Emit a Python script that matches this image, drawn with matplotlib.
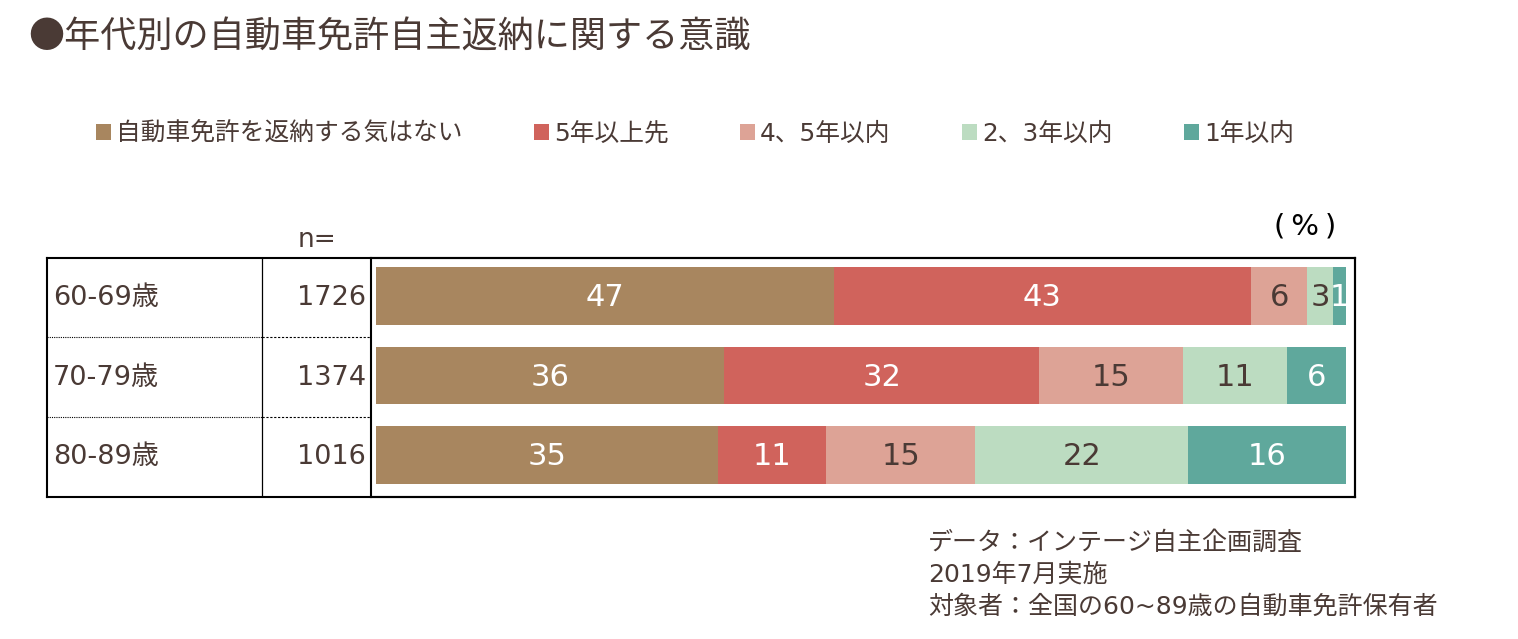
import matplotlib.pyplot as plt
from matplotlib.patches import Patch

plt.rcParams['font.family'] = ['DejaVu Sans', 'Noto Sans CJK JP']

ages = ["60-69歳", "70-79歳", "80-89歳"]
n_counts = ["1726", "1374", "1016"]
categories = ["自動車免許を返納する気はない", "5年以上先", "4、5年以内", "2、3年以内", "1年以内"]
values = [
    [47.2, 43.0, 5.8, 2.7, 1.3],
    [35.9, 32.5, 14.8, 10.7, 6.1],
    [35.3, 11.1, 15.4, 21.9, 16.3],
]
labels = [
    ["47", "43", "6", "3", "1"],
    ["36", "32", "15", "11", "6"],
    ["35", "11", "15", "22", "16"],
]
colors = ["#A8865F", "#D0635C", "#DDA396", "#BCDCC1", "#5FA89C"]
label_colors = ["white", "white", "#4A3A35", "#4A3A35", "white"]
text_color = "#4A3A35"

W, H = 1518, 639
fig = plt.figure(figsize=(W / 100, H / 100), dpi=100)


def fx(px):
    return px / W


def fy(py):
    return 1 - py / H


# title
fig.text(fx(28), fy(38), "●年代別の自動車免許自主返納に関する意識", fontsize=26,
         family=['Noto Sans CJK JP', 'DejaVu Sans'], color=text_color, va="center", ha="left")

# legend
handles = [Patch(facecolor=c, edgecolor="none") for c in colors]
fig.legend(handles, categories, loc="center left", bbox_to_anchor=(fx(74), fy(134)),
           ncol=5, frameon=False, fontsize=17.8, handlelength=0.6, handleheight=0.6,
           handletextpad=0.2, columnspacing=2.9, labelcolor=text_color)

# table part (left)
top, bottom = 258, 497
tab = fig.add_axes([fx(47), fy(bottom), fx(371) - fx(47), fy(top) - fy(bottom)])
tab.set_xlim(47, 371)
tab.set_ylim(bottom, top)
tab.axis("off")
tab.axvline(262, color="black", lw=0.9)
for yl in [337, 417]:
    tab.plot([47, 262], [yl, yl], color="black", lw=0.8, ls=(0, (1, 1)))
    tab.plot([262, 371], [yl, yl], color="black", lw=0.8, ls=(0, (2, 1.5)))
row_px = [298, 378, 457]
for i, age in enumerate(ages):
    tab.text(53, row_px[i], age, fontsize=19.5, color=text_color, va="center", ha="left")
    tab.text(366, row_px[i], n_counts[i], fontsize=19.5, color=text_color, va="center", ha="right")

fig.text(fx(298), fy(240), "n=", fontsize=19, color=text_color, va="center", ha="left")
fig.text(fx(1274), fy(226), "(\u2009%\u2009)", fontsize=21, color="black", va="center", ha="left")

# bars part (right)
ax = fig.add_axes([fx(371), fy(bottom), fx(1355) - fx(371), fy(top) - fy(bottom)])
scale = 9.7
ax.set_xlim(-5 / scale, 100 + 9 / scale)
row_gap = 79.5
ax.set_ylim(2 + (bottom - 455) / row_gap, -(296 - top) / row_gap)
for i in range(len(ages)):
    left = 0
    for j, v in enumerate(values[i]):
        ax.barh(i, v, left=left, height=0.72, color=colors[j], edgecolor="none")
        ax.text(left + v / 2, i + 0.02, labels[i][j], fontsize=22, color=label_colors[j],
                ha="center", va="center")
        left += v
ax.set_xticks([])
ax.set_yticks([])
for s in ax.spines.values():
    s.set_linewidth(1.5)

# outer frame
frame = fig.add_axes([fx(47), fy(bottom), fx(1355) - fx(47), fy(top) - fy(bottom)])
frame.patch.set_alpha(0)
frame.set_xticks([])
frame.set_yticks([])
for s in frame.spines.values():
    s.set_linewidth(1.5)

# note
notes = ["データ：インテージ自主企画調査", "2019年7月実施", "対象者：全国の60~89歳の自動車免許保有者"]
for k, t in enumerate(notes):
    fig.text(fx(928), fy(543 + 32 * k), t, fontsize=18, color=text_color, va="center", ha="left")

fig.savefig("out.png", dpi=100)
